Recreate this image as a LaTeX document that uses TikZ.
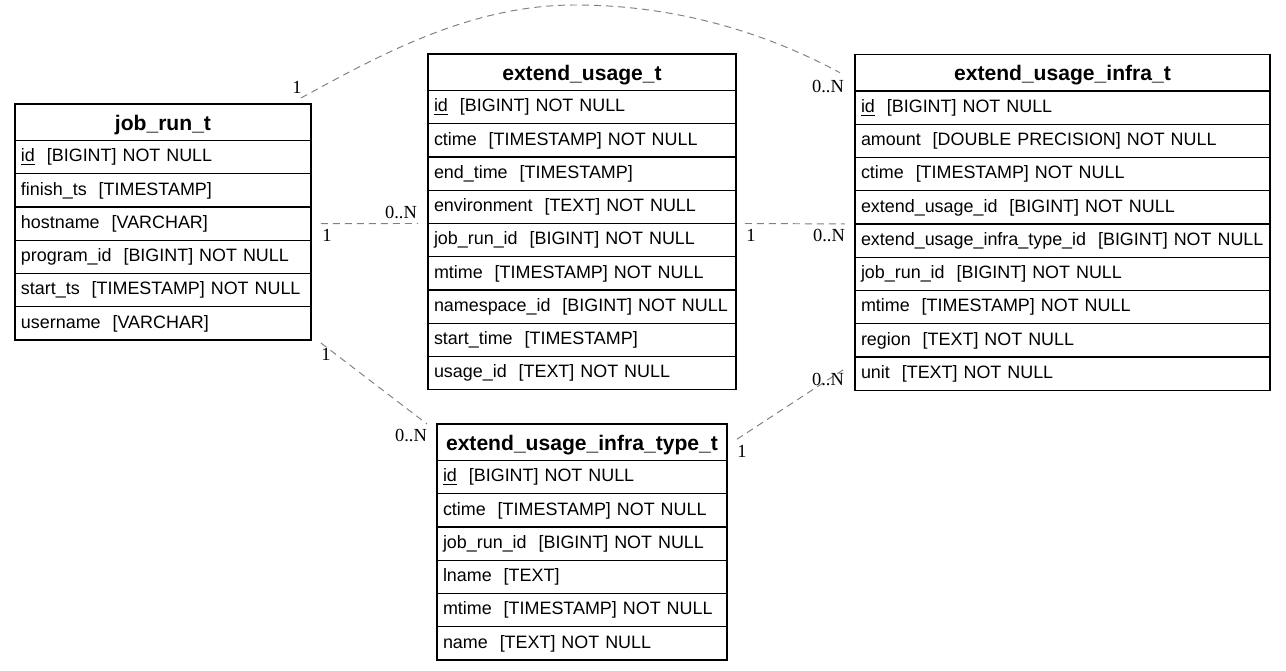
\documentclass[tikz,border=0pt]{standalone}
\usepackage{fontspec}
\setmainfont{Liberation Sans}
\newfontfamily\cardfont{Liberation Serif}
\usetikzlibrary{positioning}

\tikzset{
    tabletitle/.style={draw, line width=0.7pt, outer sep=0pt, anchor=north west,
        inner xsep=0.12cm, inner ysep=0pt, minimum height=0.73cm, text width=#1,
        text height=1.0em, text depth=0.1em, align=center,
        font=\fontsize{12}{14}\selectfont\bfseries},
    fieldrow/.style={draw, line width=0.7pt, outer sep=0pt, anchor=north west,
        inner xsep=0.12cm, inner ysep=0pt, minimum height=0.665cm, text width=#1,
        text height=0.75em, text depth=0.22em, align=left,
        font=\fontsize{10.2}{12}\selectfont},
    rel/.style={draw=gray, line width=0.55pt, dash pattern=on 0.14cm off 0.1cm},
    card/.style={inner sep=0pt, font=\cardfont\fontsize{10.5}{12}\selectfont}
}

\begin{document}
\begin{tikzpicture}[x=0.02cm, y=-0.02cm]
    \useasboundingbox (0,0) rectangle (1286,671);

    % job_run_t
    \node[tabletitle=5.68cm] (jr) at (15,104) {job\_run\_t};
    \foreach \fld [count=\i] in {{\underline{id}~~[BIGINT] NOT NULL}, {finish\_ts~~[TIMESTAMP]},
        {hostname~~[VARCHAR]}, {program\_id~~[BIGINT] NOT NULL},
        {start\_ts~~[TIMESTAMP] NOT NULL}, {username~~[VARCHAR]}}
        \node[fieldrow=5.68cm] (jr-\i) at (15,{140.5+(\i-1)*33.25}) {\mbox{\fld}};

    % extend_usage_t
    \node[tabletitle=5.92cm] (eu) at (428,54) {extend\_usage\_t};
    \foreach \fld [count=\i] in {{\underline{id}~~[BIGINT] NOT NULL}, {ctime~~[TIMESTAMP] NOT NULL},
        {end\_time~~[TIMESTAMP]}, {environment~~[TEXT] NOT NULL},
        {job\_run\_id~~[BIGINT] NOT NULL}, {mtime~~[TIMESTAMP] NOT NULL},
        {namespace\_id~~[BIGINT] NOT NULL}, {start\_time~~[TIMESTAMP]},
        {usage\_id~~[TEXT] NOT NULL}}
        \node[fieldrow=5.92cm] (eu-\i) at (428,{90.5+(\i-1)*33.25}) {\mbox{\fld}};

    % extend_usage_infra_t
    \node[tabletitle=8.06cm] (eui) at (855,54.5) {extend\_usage\_infra\_t};
    \foreach \fld [count=\i] in {{\underline{id}~~[BIGINT] NOT NULL},
        {amount~~[DOUBLE PRECISION] NOT NULL}, {ctime~~[TIMESTAMP] NOT NULL},
        {extend\_usage\_id~~[BIGINT] NOT NULL},
        {extend\_usage\_infra\_type\_id~~[BIGINT] NOT NULL},
        {job\_run\_id~~[BIGINT] NOT NULL}, {mtime~~[TIMESTAMP] NOT NULL},
        {region~~[TEXT] NOT NULL}, {unit~~[TEXT] NOT NULL}}
        \node[fieldrow=8.06cm] (eui-\i) at (855,{91+(\i-1)*33.25}) {\mbox{\fld}};

    % extend_usage_infra_type_t
    \node[tabletitle=5.56cm] (euit) at (437,424) {extend\_usage\_infra\_type\_t};
    \foreach \fld [count=\i] in {{\underline{id}~~[BIGINT] NOT NULL}, {ctime~~[TIMESTAMP] NOT NULL},
        {job\_run\_id~~[BIGINT] NOT NULL}, {lname~~[TEXT]},
        {mtime~~[TIMESTAMP] NOT NULL}, {name~~[TEXT] NOT NULL}}
        \node[fieldrow=5.56cm] (euit-\i) at (437,{460.5+(\i-1)*33.25}) {\mbox{\fld}};

    % job_run_t -- extend_usage_infra_t
    \draw[rel] ([shift={(-10,-6)}]jr.north east) .. controls (380,55) and (470,5) .. (575,5)
        .. controls (680,5) and (770,35) .. ([shift={(-15,0)}]eui.west);
    \node[card] (c1a) at ([shift={(-14,-17)}]jr.north east) {1};
    \node[card] (c1b) at ([shift={(-27,14)}]eui.west) {0..N};

    % job_run_t -- extend_usage_t
    \draw[rel] ([shift={(10,0)}]jr-3.east) -- ([shift={(-10,0)}]eu-4.south west);
    \node[card] (c2a) at ([shift={(16,12)}]jr-3.east) {1};
    \node[card] (c2b) at ([shift={(-27,-11)}]eu-4.south west) {0..N};

    % extend_usage_t -- extend_usage_infra_t
    \draw[rel] ([shift={(9,0)}]eu-4.south east) -- ([shift={(-10,0)}]eui-4.south west);
    \node[card] (c3a) at ([shift={(15,12)}]eu-4.south east) {1};
    \node[card] (c3b) at ([shift={(-26,12)}]eui-4.south west) {0..N};

    % job_run_t -- extend_usage_infra_type_t
    \draw[rel] ([shift={(10,3)}]jr-6.south east) -- ([shift={(-10,0)}]euit.north west);
    \node[card] (c4a) at ([shift={(15,14)}]jr-6.south east) {1};
    \node[card] (c4b) at ([shift={(-26,12)}]euit.north west) {0..N};

    % extend_usage_infra_type_t -- extend_usage_infra_t
    \draw[rel] ([shift={(10,-3)}]euit.east) -- ([shift={(-10,-5)}]eui-9.west);
    \node[card] (c5a) at ([shift={(15,9)}]euit.east) {1};
    \node[card] (c5b) at ([shift={(-27,6)}]eui-9.west) {0..N};
\end{tikzpicture}
\end{document}
